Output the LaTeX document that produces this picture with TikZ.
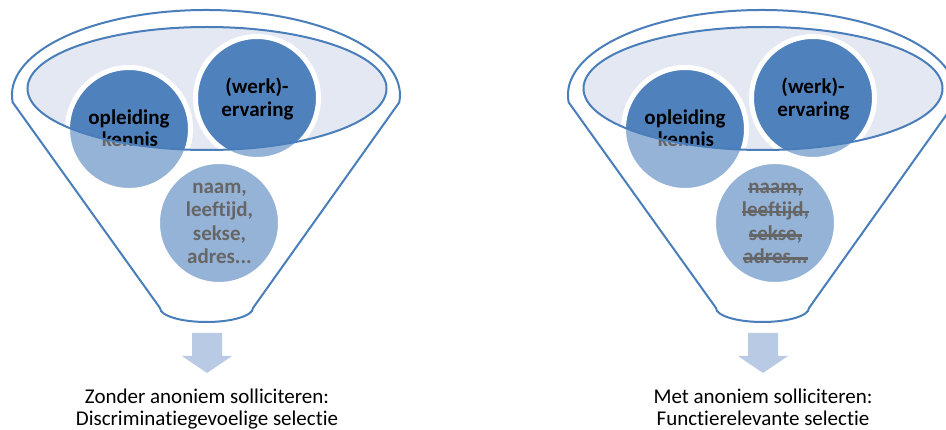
\documentclass[tikz,border=0pt]{standalone}
\usepackage{fontspec}
\setmainfont{Carlito}[Ligatures=NoCommon]
\definecolor{rimc}{HTML}{4A7EBB}
\definecolor{ellc}{HTML}{E3E8F2}
\definecolor{circc}{HTML}{4F81BD}
\definecolor{arrc}{HTML}{B9CAE4}
\def\funnelpath{(12.7,102.4) arc[start angle=185, end angle=-5, x radius=194pt, y radius=85pt] -- (253,308) arc[start angle=0, end angle=-180, x radius=46.5pt, y radius=14pt] -- cycle}
\tikzset{
  rim/.style={draw=rimc, line width=2pt},
  ellfill/.style={fill=ellc},
  bigcirc/.style={circle, minimum size=123pt, inner sep=0pt, fill=circc, draw=white, line width=5pt},
  lbl/.style={anchor=base, inner sep=0pt, font=\fontsize{21}{22}\selectfont\bfseries, text=black},
  capt/.style={anchor=base, inner sep=0pt, font=\fontsize{21}{22}\selectfont, text=black},
  veil/.style={fill=white, fill opacity=0.4, even odd rule},
  arrowfill/.style={fill=arrc},
  strikeline/.style={draw=black, line width=2.3pt}
}
\newcommand\strikes{%
  \foreach \n in {na1,na2,na3,na4}{
    \draw[strikeline] ([yshift=5pt]\n.base west) -- ([yshift=5pt]\n.base east);
  }}
\newcommand\myfunnel[4]{%
\begin{scope}[name prefix=#1]
  \fill[ellfill] (207,88.5) ellipse [x radius=179.5, y radius=61.5];
  \node[bigcirc] (op) at (129,129) {};
  \node[bigcirc] (we) at (257,98) {};
  \node[bigcirc] (na) at (219,223) {};
  \node[lbl] (op1) at (129,125) {opleiding};
  \node[lbl] (op2) at (130,147) {kennis};
  \node[lbl] (we1) at (257,93.5) {(werk)-};
  \node[lbl] (we2) at (257.5,117) {ervaring};
  \node[lbl] (na1) at (219.5,194) {naam,};
  \node[lbl] (na2) at (219.5,217) {leeftijd,};
  \node[lbl] (na3) at (219.5,240.5) {sekse,};
  \node[lbl] (na4) at (219.5,263.5) {adres...};
  #2
  \fill[veil] \funnelpath (207,88.5) ellipse [x radius=179.5, y radius=61.5];
  \draw[rim] (207,88.5) ellipse [x radius=179.5, y radius=61.5];
  \draw[rim] \funnelpath;
  \fill[arrowfill] (192,333) -- (222,333) -- (222,356) -- (232,356) -- (207,373) -- (182,356) -- (192,356) -- cycle;
  \node[capt] (c1) at (207,403.5) {#3};
  \node[capt] (c2) at (207,425.5) {#4};
\end{scope}}
\begin{document}
\begin{tikzpicture}[x=1pt, y=-1pt]
\useasboundingbox (0,0) rectangle (946,430);
\clip (0,0) rectangle (946,430);
\myfunnel{L-}{\relax}{Zonder anoniem solliciteren:}{Discriminatiegevoelige selectie}
\begin{scope}[shift={(556,0)}]
\myfunnel{R-}{\strikes}{Met anoniem solliciteren:}{Functierelevante selectie}
\end{scope}
\end{tikzpicture}
\end{document}
